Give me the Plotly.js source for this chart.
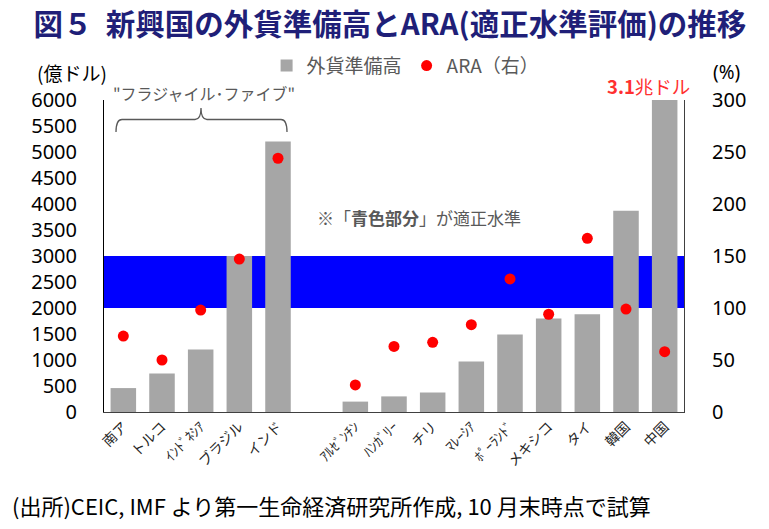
<!DOCTYPE html>
<html>
<head>
<meta charset="utf-8">
<script src="https://cdn.plot.ly/plotly-3.0.1.min.js"></script>
<style>
  html, body { margin: 0; padding: 0; background: #ffffff; }
  #chart { width: 769px; height: 529px; }
</style>
</head>
<body>
<div id="chart"></div>
<script>
// Countries (a blank slot separates the "Fragile Five" group from the rest)
const countries = ['南ア', 'トルコ', 'ｲﾝﾄﾞﾈｼｱ', 'ブラジル', 'インド', ' ',
                   'ｱﾙｾﾞﾝﾁﾝ', 'ﾊﾝｶﾞﾘｰ', 'チリ', 'ﾏﾚｰｼｱ', 'ﾎﾟｰﾗﾝﾄﾞ', 'メキシコ', 'タイ', '韓国', '中国'];

// Foreign reserves, 100 million USD (China: 3.1 trillion USD)
const reserves = [460, 740, 1200, 3000, 5200, null,
                  200, 300, 375, 970, 1490, 1800, 1880, 3870, 31000];

// ARA metric, % (right axis)
const ara = [73, 50, 98, 147, 244, null,
             26, 63, 67, 84, 128, 94, 167, 99, 58];

// Adequate range expressed on the left axis (ARA 100%–150%)
const bandRange = [2000, 3000];

const leftTicks = [0, 500, 1000, 1500, 2000, 2500, 3000, 3500, 4000, 4500, 5000, 5500, 6000];
const rightTicks = [0, 50, 100, 150, 200, 250, 300];

const JP = '"Noto Sans CJK JP", "Noto Sans", sans-serif';
const NUM = '"Noto Sans", "Noto Sans CJK JP", sans-serif';
const GRAY_TEXT = '#595959';

// plot box in pixels, used to place the brace decoration
const L = 104, R = 85, T = 100, B = 117, W = 769, H = 529;
const pw = W - L - R, ph = H - T - B;
const px = v => (v - L) / pw;
const py = v => (H - B - v) / ph;

// curly brace over the first group
function bracePath(x0, x1, xm, yLine, yEnd, yTip) {
  const r = 6;
  return 'M' + px(x0) + ',' + py(yEnd) +
    ' Q' + px(x0) + ',' + py(yLine) + ' ' + px(x0 + r) + ',' + py(yLine) +
    ' L' + px(xm - r) + ',' + py(yLine) +
    ' Q' + px(xm) + ',' + py(yLine) + ' ' + px(xm) + ',' + py(yTip) +
    ' Q' + px(xm) + ',' + py(yLine) + ' ' + px(xm + r) + ',' + py(yLine) +
    ' L' + px(x1 - r) + ',' + py(yLine) +
    ' Q' + px(x1) + ',' + py(yLine) + ' ' + px(x1) + ',' + py(yEnd);
}

const traces = [
  {
    type: 'bar',
    name: '外貨準備高',
    x: countries,
    y: reserves,
    marker: { color: '#A6A6A6', line: { width: 0 } },
    hoverinfo: 'x+y'
  },
  {
    type: 'scatter',
    mode: 'markers',
    name: 'ARA（右）',
    x: countries,
    y: ara,
    yaxis: 'y2',
    marker: { color: '#FF0000', size: 11, line: { width: 0 } },
    hoverinfo: 'x+y'
  }
];

const layout = {
  width: W,
  height: H,
  margin: { l: L, r: R, t: T, b: B, pad: 0 },
  paper_bgcolor: '#ffffff',
  plot_bgcolor: '#ffffff',
  bargap: 0.34,
  showlegend: true,
  title: {
    text: '図５  新興国の外貨準備高とARA(適正水準評価)の推移',
    font: { family: JP, size: 29.5, color: '#1F1F78', weight: 'bold' },
    xref: 'container', yref: 'container',
    x: 0.507, y: 0.953, xanchor: 'center', yanchor: 'middle'
  },
  legend: {
    orientation: 'h',
    x: 0.52, y: 1.11, xanchor: 'center', yanchor: 'middle',
    font: { family: JP, size: 19, color: GRAY_TEXT },
    bgcolor: 'rgba(0,0,0,0)',
    itemwidth: 30,
    tracegroupgap: 0
  },
  xaxis: {
    type: 'category',
    categoryorder: 'array',
    categoryarray: countries,
    range: [-0.5, countries.length - 0.5],
    tickangle: -45,
    tickfont: { family: JP, size: 14, color: '#262626' },
    showline: true, linecolor: '#404040', linewidth: 1,
    ticks: '', showgrid: false, zeroline: false,
    fixedrange: true
  },
  yaxis: {
    range: [0, 6000],
    tickvals: leftTicks,
    ticktext: leftTicks.map(String),
    tickfont: { family: NUM, size: 20, color: '#000000' },
    ticklabelstandoff: 22,
    showline: true, linecolor: '#000000', linewidth: 1,
    ticks: '', showgrid: false, zeroline: false,
    fixedrange: true
  },
  yaxis2: {
    overlaying: 'y',
    side: 'right',
    range: [0, 300],
    tickvals: rightTicks,
    ticktext: rightTicks.map(String),
    tickfont: { family: NUM, size: 20, color: '#000000' },
    ticklabelstandoff: 23,
    showline: true, linecolor: '#404040', linewidth: 1,
    ticks: '', showgrid: false, zeroline: false,
    fixedrange: true
  },
  shapes: [
    {
      type: 'rect', layer: 'below',
      xref: 'paper', x0: 0, x1: 1,
      yref: 'y', y0: bandRange[0], y1: bandRange[1],
      fillcolor: '#0000FF', line: { width: 0 }
    },
    {
      type: 'path', layer: 'above',
      xref: 'paper', yref: 'paper',
      path: bracePath(116, 287, 201, 119.5, 132, 108),
      line: { color: '#595959', width: 1.3 }
    }
  ],
  annotations: [
    {
      text: '(億ドル)', xref: 'paper', yref: 'paper',
      x: px(72), y: py(72), xanchor: 'center', yanchor: 'middle',
      showarrow: false, font: { family: JP, size: 19, color: '#000000' }
    },
    {
      text: '(%)', xref: 'paper', yref: 'paper',
      x: px(726), y: py(72), xanchor: 'center', yanchor: 'middle',
      showarrow: false, font: { family: NUM, size: 19, color: '#000000' }
    },
    {
      text: '<b>3.1</b>兆ドル', xref: 'paper', yref: 'paper',
      x: px(648), y: py(86), xanchor: 'center', yanchor: 'middle',
      showarrow: false, font: { family: JP, size: 18.5, color: '#FF3030' }
    },
    {
      text: '"フラジャイル･ファイブ"', xref: 'paper', yref: 'paper',
      x: px(204), y: py(93), xanchor: 'center', yanchor: 'middle',
      showarrow: false, font: { family: JP, size: 16, color: GRAY_TEXT }
    },
    {
      text: '※「<b>青色部分</b>」が適正水準', xref: 'paper', yref: 'paper',
      x: px(419), y: py(217), xanchor: 'center', yanchor: 'middle',
      showarrow: false, font: { family: JP, size: 17, color: GRAY_TEXT }
    },
    {
      text: '(出所)CEIC, IMF より第一生命経済研究所作成, 10 月末時点で試算',
      xref: 'paper', yref: 'paper',
      x: px(10), y: py(505), xanchor: 'left', yanchor: 'middle',
      showarrow: false, font: { family: JP, size: 22, color: '#000000' }
    }
  ]
};

Plotly.newPlot('chart', traces, layout, { displayModeBar: false, staticPlot: true });
</script>
</body>
</html>
